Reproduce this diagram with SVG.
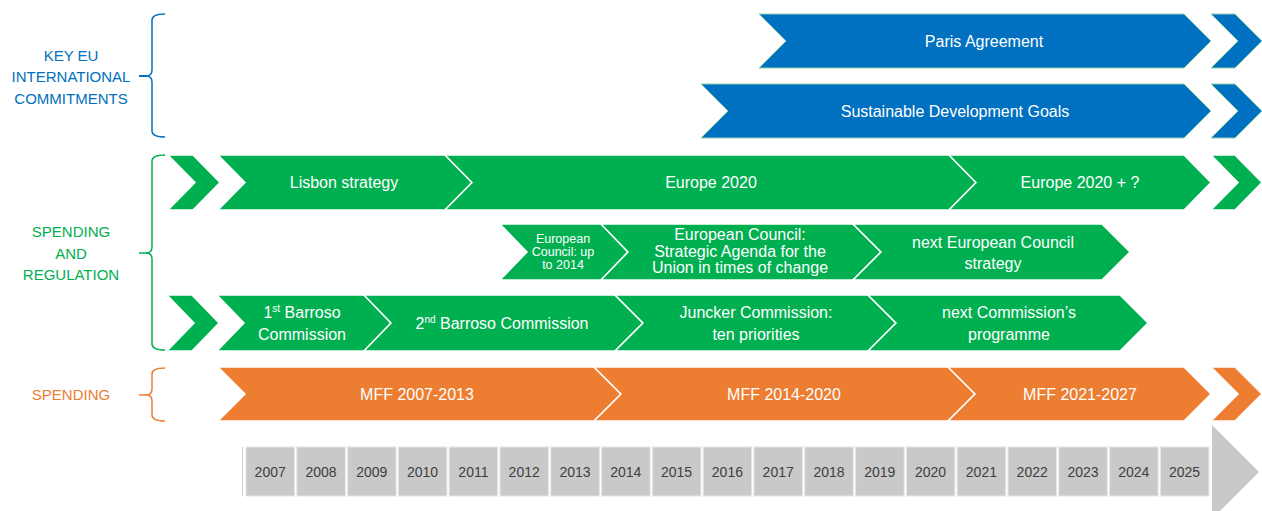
<svg xmlns="http://www.w3.org/2000/svg" width="1262" height="511" viewBox="0 0 1262 511">
<style>
text{font-family:"Liberation Sans",Arial,sans-serif}
.lbl{font-size:15px;text-anchor:middle}
.t{font-size:16px;fill:#fff;text-anchor:middle}
.ts{font-size:12.5px;fill:#fff;text-anchor:middle}
.blue{fill:#0070C0;stroke:#8fd3ad;stroke-width:1}
.green{fill:#00B050;stroke:#fff;stroke-width:1.5}
.orange{fill:#ED7D31;stroke:#fff;stroke-width:1.5}
.yr{fill:#C9C9C9;stroke:#e6e6e6;stroke-width:1}
.yt{font-size:14px;fill:#404040;text-anchor:middle}
.br{fill:none;stroke-width:1.5}
</style>
<rect width="1262" height="511" fill="#fff"/>

<g id="labels">
<g id="label-key">
<text class="lbl" fill="#0070C0" x="71" y="60.5">KEY EU</text>
<text class="lbl" fill="#0070C0" x="71" y="82">INTERNATIONAL</text>
<text class="lbl" fill="#0070C0" x="71" y="103.5">COMMITMENTS</text>
<path class="br" stroke="#0070C0" d="M165,14 Q152,14 152,20 L152,70 Q152,76 146,76 Q152,76 152,82 L152,131 Q152,137 165,137"/>
<path stroke="#0070C0" stroke-width="2" d="M139,76 L147,76"/>
</g>
<g id="label-spreg">
<text class="lbl" fill="#00B050" x="71" y="237">SPENDING</text>
<text class="lbl" fill="#00B050" x="71" y="258.5">AND</text>
<text class="lbl" fill="#00B050" x="71" y="280">REGULATION</text>
<path class="br" stroke="#00B050" d="M165,155 Q152,155 152,161 L152,247 Q152,253 146,253 Q152,253 152,259 L152,344 Q152,350 165,350"/>
<path stroke="#00B050" stroke-width="1.5" d="M139,253 L147,253"/>
</g>
<g id="label-sp">
<text class="lbl" fill="#ED7D31" x="71" y="400">SPENDING</text>
<path class="br" stroke="#ED7D31" d="M165,368 Q152,368 152,374 L152,389 Q152,395 146,395 Q152,395 152,401 L152,415 Q152,421 165,421"/>
<path stroke="#ED7D31" stroke-width="1.5" d="M139,395 L147,395"/>
</g>
</g>

<g id="connectors"></g>

<g id="paris">
<polygon class="blue" points="759,14 1184,14 1211,41 1184,68 759,68 786,41"/>
<polygon class="blue" points="1211,14 1235,14 1262,41 1235,68 1211,68 1238,41"/>
<text class="t" x="984" y="47">Paris Agreement</text>
</g>
<g id="sdg">
<polygon class="blue" points="701,84 1184,84 1211,111 1184,138 701,138 728,111"/>
<polygon class="blue" points="1211,84 1235,84 1262,111 1235,138 1211,138 1238,111"/>
<text class="t" x="955" y="117">Sustainable Development Goals</text>
</g>

<g id="row-strategy">
<polygon class="green" points="168,155 193,155 220,182.5 193,210 168,210 195,182.5"/>
<g id="lisbon">
<polygon class="green" points="218,155 445,155 472,182.5 445,210 218,210 245,182.5"/>
<text class="t" x="344" y="188">Lisbon strategy</text>
</g>
<g id="europe2020">
<polygon class="green" points="445,155 949,155 976,182.5 949,210 445,210 472,182.5"/>
<text class="t" x="711" y="188">Europe 2020</text>
</g>
<g id="europe2020plus">
<polygon class="green" points="949,155 1184,155 1211,182.5 1184,210 949,210 976,182.5"/>
<text class="t" x="1080" y="188">Europe 2020 + ?</text>
</g>
<polygon class="green" points="1211,155 1235,155 1262,182.5 1235,210 1211,210 1238,182.5"/>
</g>

<g id="row-council">
<g id="ec2014">
<polygon class="green" points="500,224 601,224 628,252 601,280 500,280 527,252"/>
<text class="ts" x="563" y="243">European</text>
<text class="ts" x="563" y="256">Council: up</text>
<text class="ts" x="563" y="269">to 2014</text>
</g>
<g id="ec-agenda">
<polygon class="green" points="601,224 853,224 881,252 853,280 601,280 628,252"/>
<text class="t" x="740" y="240">European Council:</text>
<text class="t" x="740" y="256.5">Strategic Agenda for the</text>
<text class="t" x="740" y="273">Union in times of change</text>
</g>
<g id="ec-next">
<polygon class="green" points="853,224 1102,224 1130,252 1102,280 853,280 881,252"/>
<text class="t" x="993" y="248">next European Council</text>
<text class="t" x="993" y="269">strategy</text>
</g>
</g>

<g id="row-commission">
<polygon class="green" points="167,295 192,295 219,323 192,351 167,351 194,323"/>
<g id="barroso1">
<polygon class="green" points="217,295 364,295 391,323 364,351 217,351 244,323"/>
<text class="t" x="302" y="317.5">1<tspan dy="-6" font-size="10">st</tspan><tspan dy="6"> Barroso</tspan></text>
<text class="t" x="302" y="339.5">Commission</text>
</g>
<g id="barroso2">
<polygon class="green" points="364,295 615,295 643,323 615,351 364,351 391,323"/>
<text class="t" x="502" y="329">2<tspan dy="-6" font-size="10">nd</tspan><tspan dy="6"> Barroso Commission</tspan></text>
</g>
<g id="juncker">
<polygon class="green" points="615,295 868,295 896,323 868,351 615,351 643,323"/>
<text class="t" x="756" y="317.5">Juncker Commission:</text>
<text class="t" x="756" y="339.5">ten priorities</text>
</g>
<g id="next-commission">
<polygon class="green" points="868,295 1120,295 1148,323 1120,351 868,351 896,323"/>
<text class="t" x="1009" y="317.5">next Commission’s</text>
<text class="t" x="1009" y="339.5">programme</text>
</g>
</g>

<g id="row-mff">
<g id="mff1">
<polygon class="orange" points="218,367 594,367 621,394 594,421 218,421 245,394"/>
<text class="t" x="417" y="400">MFF 2007-2013</text>
</g>
<g id="mff2">
<polygon class="orange" points="594,367 948,367 975,394 948,421 594,421 621,394"/>
<text class="t" x="784" y="400">MFF 2014-2020</text>
</g>
<g id="mff3">
<polygon class="orange" points="948,367 1184,367 1211,394 1184,421 948,421 975,394"/>
<text class="t" x="1080" y="400">MFF 2021-2027</text>
</g>
<polygon class="orange" points="1211,367 1235,367 1262,394 1235,421 1211,421 1238,394"/>
</g>

<g id="timeline">
<line x1="242.5" y1="447" x2="242.5" y2="496" stroke="#d0d0d0" stroke-width="1"/>
<rect class="yr" x="246" y="447" width="48.5" height="49"/><text class="yt" x="270.2" y="477">2007</text>
<rect class="yr" x="296.8" y="447" width="48.5" height="49"/><text class="yt" x="321" y="477">2008</text>
<rect class="yr" x="347.6" y="447" width="48.5" height="49"/><text class="yt" x="371.8" y="477">2009</text>
<rect class="yr" x="398.4" y="447" width="48.5" height="49"/><text class="yt" x="422.6" y="477">2010</text>
<rect class="yr" x="449.2" y="447" width="48.5" height="49"/><text class="yt" x="473.4" y="477">2011</text>
<rect class="yr" x="500" y="447" width="48.5" height="49"/><text class="yt" x="524.2" y="477">2012</text>
<rect class="yr" x="550.8" y="447" width="48.5" height="49"/><text class="yt" x="575" y="477">2013</text>
<rect class="yr" x="601.6" y="447" width="48.5" height="49"/><text class="yt" x="625.8" y="477">2014</text>
<rect class="yr" x="652.4" y="447" width="48.5" height="49"/><text class="yt" x="676.6" y="477">2015</text>
<rect class="yr" x="703.2" y="447" width="48.5" height="49"/><text class="yt" x="727.4" y="477">2016</text>
<rect class="yr" x="754" y="447" width="48.5" height="49"/><text class="yt" x="778.2" y="477">2017</text>
<rect class="yr" x="804.8" y="447" width="48.5" height="49"/><text class="yt" x="829" y="477">2018</text>
<rect class="yr" x="855.6" y="447" width="48.5" height="49"/><text class="yt" x="879.8" y="477">2019</text>
<rect class="yr" x="906.4" y="447" width="48.5" height="49"/><text class="yt" x="930.6" y="477">2020</text>
<rect class="yr" x="957.2" y="447" width="48.5" height="49"/><text class="yt" x="981.4" y="477">2021</text>
<rect class="yr" x="1008" y="447" width="48.5" height="49"/><text class="yt" x="1032.2" y="477">2022</text>
<rect class="yr" x="1058.8" y="447" width="48.5" height="49"/><text class="yt" x="1083" y="477">2023</text>
<rect class="yr" x="1109.6" y="447" width="48.5" height="49"/><text class="yt" x="1133.8" y="477">2024</text>
<rect class="yr" x="1160.4" y="447" width="48.5" height="49"/><text class="yt" x="1184.6" y="477">2025</text>
<polygon fill="#C9C9C9" points="1212,425 1259,472 1212,519"/>
</g>
</svg>
